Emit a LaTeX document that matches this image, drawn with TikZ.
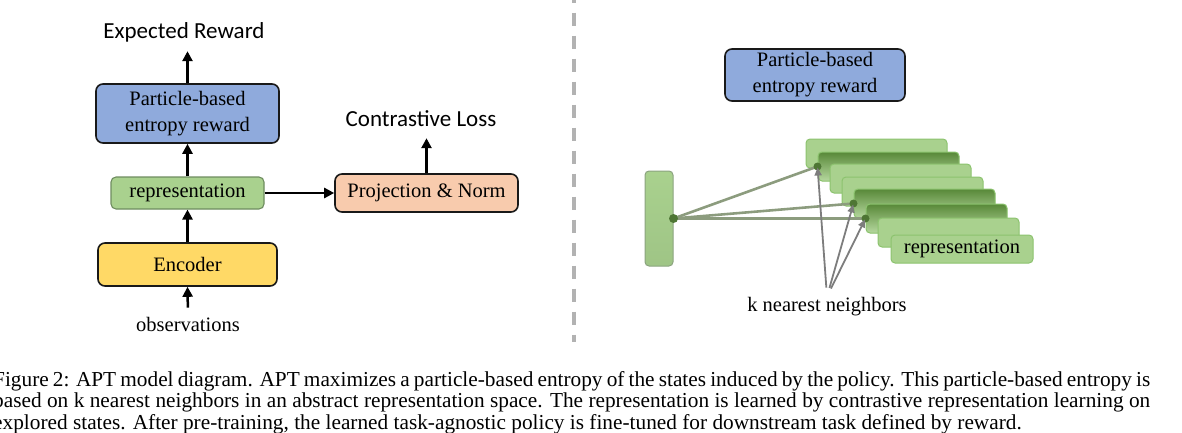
\documentclass[tikz,border=0pt]{standalone}
\usepackage{fontspec}
\setmainfont{Liberation Serif}
\newfontfamily\labelfont{Carlito}
\usepackage{tikz}
\usetikzlibrary{positioning,arrows.meta,calc}
\definecolor{aptblue}{RGB}{143,170,220}
\definecolor{aptgreen}{RGB}{169,209,142}
\definecolor{aptdarkgreen}{RGB}{88,136,56}
\definecolor{aptgold}{RGB}{255,217,102}
\definecolor{aptpeach}{RGB}{248,203,173}
\definecolor{aptedge}{RGB}{140,195,110}
\definecolor{aptrepedge}{RGB}{110,140,95}
\definecolor{aptgray}{RGB}{125,125,125}
\definecolor{aptline}{RGB}{140,156,126}
\definecolor{aptdot}{RGB}{78,118,52}
\definecolor{aptdash}{RGB}{178,178,178}

\begin{document}
\begin{tikzpicture}[x=1pt,y=-1pt,
	% Node styles
	block/.style={
		rectangle,
		rounded corners=7pt,
		draw=black!90,
		fill=#1,
		line width=1.6pt,
		inner sep=0pt,
		align=center,
		font=\fontsize{20.5}{26}\selectfont
	},
	repbox/.style={
		block=aptgreen,
		draw=aptrepedge,
		line width=1.1pt,
		rounded corners=5pt
	},
	card/.style={
		rectangle,
		rounded corners=4pt,
		draw=aptedge,
		fill=aptgreen,
		line width=1pt,
		minimum width=141pt,
		minimum height=29pt,
		inner sep=0pt,
		font=\fontsize{20.5}{26}\selectfont
	},
	darkcard/.style={
		card,
		top color=aptdarkgreen,
		bottom color=aptgreen!85!white
	},
	barbox/.style={
		rectangle,
		rounded corners=4pt,
		draw=aptrepedge!80,
		top color=aptgreen,
		bottom color=aptgreen!94!black,
		line width=1pt
	},
	plain/.style={
		inner sep=0pt,
		font=\fontsize{20.5}{26}\selectfont
	},
	outlabel/.style={
		inner sep=0pt,
		text depth=0pt,
		font=\labelfont\fontsize{23}{27}\selectfont
	},
	caption/.style={
		inner sep=0pt,
		text width=1157pt,
		align=justify,
		font=\fontsize{21.3}{21.7}\selectfont
	},
	arrow/.style={
		-{Triangle[length=10pt,width=10pt]},
		line width=2.5pt,
		color=black
	},
	nnline/.style={
		line width=2.6pt,
		color=aptline
	},
	knnarrow/.style={
		-{Triangle[length=8pt,width=7pt]},
		line width=1.8pt,
		color=aptgray
	},
	divider/.style={
		line width=3.5pt,
		color=aptdash,
		dash pattern=on 13pt off 10pt,
		dash phase=10.3pt
	}
	]
	
	\useasboundingbox (0,0) rectangle (1182,433);
	
	% Left: model pipeline
	\node[outlabel, anchor=base] (exprew) at (184,39) {Expected Reward};
	\node[block=aptblue, minimum width=183pt, minimum height=59pt] (pbr) at (187.5,113.5) {Particle-based\\entropy reward};
	\node[repbox, minimum width=153pt, minimum height=32pt] (rep) at (187.5,193) {representation};
	\node[block=aptgold, minimum width=179pt, minimum height=43pt] (enc) at (187.5,264.5) {Encoder};
	\node[plain, anchor=base] (obs) at (188,331) {observations};
	
	\node[block=aptpeach, minimum width=183pt, minimum height=38pt] (proj) at (426.5,193) {Projection \& Norm};
	\node[outlabel, anchor=base] (closs) at (421,127) {Contrastive Loss};
	
	\draw[arrow, shorten <=9pt] (obs.north) -- (enc.south);
	\draw[arrow] (enc.north) -- (rep.south);
	\draw[arrow] (rep.north) -- (pbr.south);
	\draw[arrow, shorten >=12pt] (pbr.north) -- (pbr.north |- exprew.south);
	\draw[arrow] (rep.east) -- (proj.west);
	\draw[arrow, shorten >=11pt] (proj.north) -- (proj.north |- closs.south);
	
	% Divider
	\draw[divider] (574,0) -- (574,342);
	
	% Right: particle-based entropy
	\node[block=aptblue, minimum width=180pt, minimum height=52pt] (pbrright) at (815,75) {Particle-based\\entropy reward};
	\node[barbox, minimum width=28pt, minimum height=95pt] (bar) at (659,218.5) {};
	
	% Stack of representations
	\node[card] (c1) at (876.5,153.5) {};
	\node[darkcard] (c2) at (888.5,166.5) {};
	\node[card] (c3) at (900.5,178.5) {};
	\node[card] (c4) at (912.5,191.5) {};
	\node[darkcard] (c5) at (924.5,203.5) {};
	\node[darkcard] (c6) at (936.5,218.5) {};
	\node[card] (c7) at (948.5,232.5) {};
	\node[card, minimum width=142pt, minimum height=28pt] (c8) at (962,249) {representation};
	
	% Nearest neighbours
	\draw[nnline] (bar.east) -- (c2.west);
	\draw[nnline] (bar.east) -- (c5.west);
	\draw[nnline] (bar.east) -- (c6.west);
	\fill[aptdot] (bar.east) circle (4.5);
	\fill[aptdot] (c2.west) circle (4);
	\fill[aptdot] (c5.west) circle (4);
	\fill[aptdot] (c6.west) circle (4);
	
	\node[plain, anchor=base] (knn) at (827,311) {k nearest neighbors};
	\draw[knnarrow, shorten <=9pt, shorten >=1pt] (knn.north) -- (c2.west);
	\draw[knnarrow, shorten <=9pt, shorten >=1pt] (knn.north) -- (c5.west);
	\draw[knnarrow, shorten <=9pt, shorten >=1pt] (knn.north) -- (c6.west);
	
	% Caption
	\node[caption, anchor=north west] (cap) at (-7,371) {\parindent=0pt
		\parfillskip=0pt Figure 2: APT model diagram. APT maximizes a particle-based entropy of the states induced by the policy. This particle-based entropy is\par
		based on k nearest neighbors in an abstract representation space. The representation is learned by contrastive representation learning on\par
		\parfillskip=0pt plus 1fil explored states. After pre-training, the learned task-agnostic policy is fine-tuned for downstream task defined by reward.\par};
	
\end{tikzpicture}
\end{document}
